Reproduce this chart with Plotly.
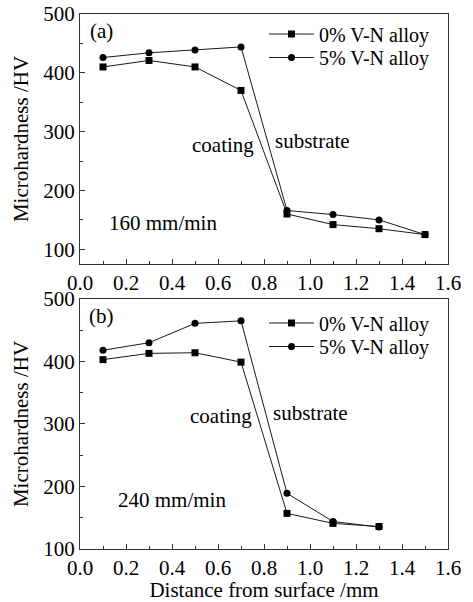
import plotly.graph_objects as go

x_a = [0.1, 0.3, 0.5, 0.7, 0.9, 1.1, 1.3, 1.5]
a_0 = [410, 421, 410, 370, 160, 142, 135, 125]
a_5 = [426, 434, 439, 444, 166, 159, 150, 125]

x_b = [0.1, 0.3, 0.5, 0.7, 0.9, 1.1, 1.3]
b_0 = [403, 413, 414, 399, 157, 141, 136]
b_5 = [418, 430, 461, 465, 189, 144, 135]

series_names = ["0% V-N alloy", "5% V-N alloy"]
x_ticks = [0.0, 0.2, 0.4, 0.6, 0.8, 1.0, 1.2, 1.4, 1.6]
y_ticks = [100, 200, 300, 400, 500]

FONT = "Liberation Serif, Times New Roman, serif"
FS = 21
LFS = 20
LC = "#1a1a1a"

fig = go.Figure()

def add(x, y, name, sym, size, xa, ya, leg):
    fig.add_trace(go.Scatter(
        x=x, y=y, name=name, mode="lines+markers",
        line=dict(color=LC, width=1),
        marker=dict(symbol=sym, size=size, color="black"),
        xaxis=xa, yaxis=ya, legend=leg))

add(x_a, a_0, series_names[0], "square", 7, "x", "y", "legend")
add(x_a, a_5, series_names[1], "circle", 7, "x", "y", "legend2")
add(x_b, b_0, series_names[0], "square", 7, "x2", "y2", "legend3")
add(x_b, b_5, series_names[1], "circle", 7, "x2", "y2", "legend4")

axis_common = dict(
    showline=True, linecolor="#333", linewidth=1, mirror=True,
    ticks="inside", ticklen=5, tickwidth=1, tickcolor="#333",
    showgrid=False, zeroline=False, automargin=False,
    tickfont=dict(family=FONT, size=FS, color="black"),
)

xa = dict(axis_common, range=[0, 1.6], tickvals=x_ticks,
          ticktext=[f"{v:.1f}" for v in x_ticks],
          minor=dict(dtick=0.1, tick0=0, ticks="inside", ticklen=3, tickcolor="#333"))
ya = dict(axis_common, tickvals=y_ticks,
          minor=dict(dtick=50, tick0=0, ticks="inside", ticklen=3, tickcolor="#333"),
          title=dict(text="Microhardness /HV", font=dict(family=FONT, size=FS, color="black"), standoff=8))

def leg(x, y):
    return dict(x=x, y=y, xanchor="left", yanchor="middle", bgcolor="rgba(0,0,0,0)",
                font=dict(family=FONT, size=LFS), itemwidth=45, borderwidth=0)

fig.update_layout(
    width=473, height=602,
    margin=dict(l=80, r=25, t=14, b=53),
    paper_bgcolor="white", plot_bgcolor="white",
    font=dict(family=FONT, size=FS, color="black"),
    xaxis=dict(xa, domain=[0, 1], anchor="y"),
    yaxis=dict(ya, domain=[0.5327, 1], range=[75, 500], anchor="x"),
    xaxis2=dict(xa, domain=[0, 1], anchor="y2",
                title=dict(text="Distance from surface /mm", font=dict(family=FONT, size=FS, color="black"), standoff=4)),
    yaxis2=dict(ya, domain=[0, 0.4673], range=[100, 500], anchor="x2"),
    legend=leg(0.5, (549 - 34) / 535),
    legend2=leg(0.5, (549 - 57.5) / 535),
    legend3=leg(0.5, (549 - 323) / 535),
    legend4=leg(0.5, (549 - 346.5) / 535),
    showlegend=True,
)

ann = [
    ("(a)", 0.0935, 471, "x", "y"),
    ("coating", 0.62, 278, "x", "y"),
    ("substrate", 1.013, 284, "x", "y"),
    ("160 mm/min", 0.363, 145, "x", "y"),
    ("(b)", 0.0935, 472, "x2", "y2"),
    ("coating", 0.611, 313, "x2", "y2"),
    ("substrate", 1.0, 317, "x2", "y2"),
    ("240 mm/min", 0.402, 178, "x2", "y2"),
]
for t, x, y, xr, yr in ann:
    fig.add_annotation(text=t, x=x, y=y, xref=xr, yref=yr, showarrow=False,
                       font=dict(family=FONT, size=FS, color="black"))

fig.write_html("out.html", config={"displayModeBar": False},
               post_script="document.body.style.margin='0';document.body.style.padding='0';")
